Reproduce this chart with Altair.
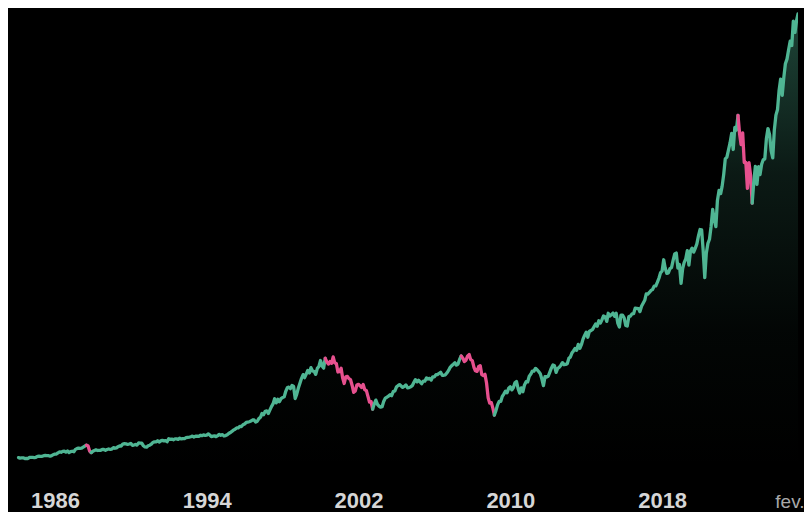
import altair as alt
import pandas as pd

# S&P 500 monthly closes (Jan 1984 .. Feb 2025)
y1984 = [163.4, 157.1, 159.2, 160.1, 150.6, 153.2, 150.7, 166.7, 166.1, 166.1, 163.6, 167.2]
y1985 = [179.6, 181.2, 180.7, 179.8, 189.6, 191.9, 190.9, 188.6, 182.1, 189.8, 202.2, 211.3]
y1986 = [211.8, 226.9, 238.9, 235.5, 247.4, 250.8, 236.1, 252.9, 231.3, 243.0, 249.2, 242.2]
y1987 = [274.1, 284.2, 291.7, 288.4, 290.1, 304.0, 318.7, 329.8, 321.8, 251.8, 230.3, 247.1]
y1988 = [257.1, 267.8, 258.9, 261.3, 262.2, 273.5, 272.0, 261.5, 271.9, 279.0, 273.7, 277.7]
y1989 = [297.5, 288.9, 294.9, 309.6, 320.5, 318.0, 346.1, 351.5, 349.2, 340.4, 346.0, 353.4]
y1990 = [329.1, 331.9, 339.9, 330.8, 361.2, 358.0, 356.2, 322.6, 306.1, 304.0, 322.2, 330.2]
y1991 = [343.9, 367.1, 375.2, 375.3, 389.8, 371.2, 387.8, 395.4, 387.9, 392.5, 375.2, 417.1]
y1992 = [408.8, 412.7, 403.7, 415.0, 415.4, 408.1, 424.2, 414.0, 417.8, 418.7, 431.4, 435.7]
y1993 = [438.8, 443.4, 451.7, 440.2, 450.2, 450.5, 448.1, 463.6, 458.9, 467.8, 461.8, 466.5]
y1994 = [481.6, 467.1, 445.8, 450.9, 456.5, 444.3, 458.3, 475.5, 462.7, 472.4, 453.7, 459.3]
y1995 = [470.4, 487.4, 500.7, 514.7, 533.4, 544.8, 562.1, 561.9, 584.4, 581.5, 605.4, 615.9]
y1996 = [636.0, 640.4, 645.5, 654.2, 669.1, 670.6, 640.0, 652.0, 687.3, 705.3, 757.0, 740.7]
y1997 = [786.2, 790.8, 757.1, 801.3, 848.3, 885.1, 954.3, 899.5, 947.3, 914.6, 955.4, 970.4]
y1998 = [980.3, 1049.3, 1101.8, 1111.8, 1090.8, 1133.8, 1120.7, 957.3, 1017.0, 1098.7, 1163.6, 1229.2]
y1999 = [1279.6, 1238.3, 1286.4, 1335.2, 1301.8, 1372.7, 1328.7, 1320.4, 1282.7, 1362.9, 1389.0, 1469.3]
y2000 = [1394.5, 1366.4, 1498.6, 1452.4, 1420.6, 1454.6, 1430.8, 1517.7, 1436.5, 1429.4, 1315.0, 1320.3]
y2001 = [1366.0, 1239.9, 1160.3, 1249.5, 1255.8, 1224.4, 1211.2, 1133.6, 1040.9, 1059.8, 1139.5, 1148.1]
y2002 = [1130.2, 1106.7, 1147.4, 1076.9, 1067.1, 989.8, 911.6, 916.1, 815.3, 885.8, 936.3, 879.8]
y2003 = [855.7, 841.2, 848.2, 916.9, 963.6, 974.5, 990.3, 1008.0, 996.0, 1050.7, 1058.2, 1111.9]
y2004 = [1131.1, 1144.9, 1126.2, 1107.3, 1120.7, 1140.8, 1101.7, 1104.2, 1114.6, 1130.2, 1173.8, 1211.9]
y2005 = [1181.3, 1203.6, 1180.6, 1156.9, 1191.5, 1191.3, 1234.2, 1220.3, 1228.8, 1207.0, 1249.5, 1248.3]
y2006 = [1280.1, 1280.7, 1294.9, 1310.6, 1270.1, 1270.2, 1276.7, 1303.8, 1335.9, 1377.9, 1400.6, 1418.3]
y2007 = [1438.2, 1406.8, 1420.9, 1482.4, 1530.6, 1503.4, 1455.3, 1474.0, 1526.8, 1549.4, 1481.1, 1468.4]
y2008 = [1378.6, 1330.6, 1322.7, 1385.6, 1400.4, 1280.0, 1267.4, 1282.8, 1166.4, 968.8, 896.2, 903.3]
y2009 = [825.9, 735.1, 797.9, 872.8, 919.1, 919.3, 987.5, 1020.6, 1057.1, 1036.2, 1095.6, 1115.1]
y2010 = [1073.9, 1104.5, 1169.4, 1186.7, 1089.4, 1030.7, 1101.6, 1049.3, 1141.2, 1183.3, 1180.6, 1257.6]
y2011 = [1286.1, 1327.2, 1325.8, 1363.6, 1345.2, 1320.6, 1292.3, 1218.9, 1131.4, 1253.3, 1247.0, 1257.6]
y2012 = [1312.4, 1365.7, 1408.5, 1397.9, 1310.3, 1362.2, 1379.3, 1406.6, 1440.7, 1412.2, 1416.2, 1426.2]
y2013 = [1498.1, 1514.7, 1569.2, 1597.6, 1630.7, 1606.3, 1685.7, 1633.0, 1681.6, 1756.5, 1805.8, 1848.4]
y2014 = [1782.6, 1859.5, 1872.3, 1884.0, 1923.6, 1960.2, 1930.7, 2003.4, 1972.3, 2018.1, 2067.6, 2058.9]
y2015 = [1995.0, 2104.5, 2067.9, 2085.5, 2107.4, 2063.1, 2103.8, 1972.2, 1920.0, 2079.4, 2080.4, 2043.9]
y2016 = [1940.2, 1932.2, 2059.7, 2065.3, 2097.0, 2098.9, 2173.6, 2171.0, 2168.3, 2126.2, 2198.8, 2238.8]
y2017 = [2278.9, 2363.6, 2362.7, 2384.2, 2411.8, 2423.4, 2470.3, 2471.7, 2519.4, 2575.3, 2647.6, 2673.6]
y2018 = [2823.8, 2713.8, 2640.9, 2648.1, 2705.3, 2718.4, 2816.3, 2901.5, 2914.0, 2711.7, 2760.2, 2506.9]
y2019 = [2704.1, 2784.5, 2834.4, 2945.8, 2752.1, 2941.8, 2980.4, 2926.5, 2976.7, 3037.6, 3141.0, 3230.8]
y2020 = [3225.5, 2954.2, 2584.6, 2912.4, 3044.3, 3100.3, 3271.1, 3500.3, 3363.0, 3270.0, 3621.6, 3756.1]
y2021 = [3714.2, 3811.2, 3972.9, 4181.2, 4204.1, 4297.5, 4395.3, 4522.7, 4307.5, 4605.4, 4567.0, 4766.2]
y2022 = [4515.6, 4373.9, 4530.4, 4131.9, 4132.2, 3785.4, 4130.3, 3955.0, 3585.6, 3872.0, 4080.1, 3839.5]
y2023 = [4076.6, 3970.2, 4109.3, 4169.5, 4179.8, 4450.4, 4589.0, 4507.7, 4288.1, 4193.8, 4567.8, 4769.8]
y2024 = [4845.7, 5096.3, 5254.4, 5035.7, 5277.5, 5460.5, 5522.3, 5648.4, 5762.5, 5705.5, 6032.4, 5881.6]
y2025 = [6040.5, 6130.0]

yearly = [y1984, y1985, y1986, y1987, y1988, y1989, y1990, y1991, y1992, y1993,
          y1994, y1995, y1996, y1997, y1998, y1999, y2000, y2001, y2002, y2003,
          y2004, y2005, y2006, y2007, y2008, y2009, y2010, y2011, y2012, y2013,
          y2014, y2015, y2016, y2017, y2018, y2019, y2020, y2021, y2022, y2023,
          y2024, y2025]
start_year = 1984

# bear-market stretches drawn in pink (first month, last month)
bear_ranges = [("1987-08", "1987-11"), ("2000-03", "2002-09"),
               ("2007-05", "2009-02"), ("2021-12", "2022-09")]

tick_labels = ["1986", "1994", "2002", "2010", "2018", "fev."]

GREEN = "#4fb593"
PINK = "#e6508e"

# ---- build tables ----
dates, values, keys = [], [], []
for i, arr in enumerate(yearly):
    yr = start_year + i
    for m, v in enumerate(arr, start=1):
        d = pd.Timestamp(yr, m, 1) + pd.offsets.MonthEnd(0)
        dates.append(d)
        values.append(v)
        keys.append(f"{yr}-{m:02d}")

base = pd.DataFrame({"date": dates, "value": values})

def in_bear(a, b):
    for s, e in bear_ranges:
        if s <= a and b <= e:
            return True
    return False

# colour each edge, then split into runs sharing boundary points
edge_kind = ["down" if in_bear(keys[i], keys[i + 1]) else "up" for i in range(len(keys) - 1)]
rows = []
seg = 0
i = 0
while i < len(edge_kind):
    kind = edge_kind[i]
    j = i
    while j + 1 < len(edge_kind) and edge_kind[j + 1] == kind:
        j += 1
    for k in range(i, j + 2):
        rows.append({"date": dates[k], "value": values[k], "seg": seg, "kind": kind})
    seg += 1
    i = j + 1
segs = pd.DataFrame(rows)

x_domain = [alt.DateTime(year=1983, month=7, date=13), alt.DateTime(year=2025, month=2, date=28)]
tick_values = [alt.DateTime(year=1986, month=1, date=1), alt.DateTime(year=1994, month=1, date=1),
               alt.DateTime(year=2002, month=1, date=1), alt.DateTime(year=2010, month=1, date=1),
               alt.DateTime(year=2018, month=1, date=1), alt.DateTime(year=2025, month=2, date=28)]

label_expr = ("year(datum.value) >= 2025 ? '" + tick_labels[-1] + "' : timeFormat(datum.value, '%Y')")
last_test = "year(datum.value) >= 2025"

x_enc = alt.X("date:T", scale=alt.Scale(domain=x_domain, nice=False),
              axis=alt.Axis(values=tick_values, labelExpr=label_expr, title=None,
                            domain=False, ticks=False, tickSize=0, grid=False,
                            labelFont="Liberation Sans", labelFontSize={"condition": {"test": last_test, "value": 19}, "value": 22},
                            labelFontWeight={"condition": {"test": last_test, "value": "normal"}, "value": "bold"},
                            labelColor={"condition": {"test": last_test, "value": "#a9a9a9"}, "value": "#d6d6d6"},
                            labelBaseline="alphabetic", labelPadding=38,
                            labelFlush=True, labelFlushOffset=6, labelOverlap=False))
y_scale = alt.Scale(domain=[0, 6206], nice=False, zero=True)

area = alt.Chart(base).mark_area(
    color=alt.Gradient(
        gradient="linear",
        stops=[alt.GradientStop(color="rgba(79,181,147,0.38)", offset=0),
               alt.GradientStop(color="rgba(79,181,147,0.14)", offset=0.35),
               alt.GradientStop(color="rgba(79,181,147,0.03)", offset=0.7),
               alt.GradientStop(color="rgba(79,181,147,0.0)", offset=1)],
        x1=1, x2=1, y1=0, y2=1),
    clip=True,
).encode(x=x_enc, y=alt.Y("value:Q", scale=y_scale, axis=None))

line = alt.Chart(segs).mark_line(strokeWidth=3.3, strokeJoin="round", strokeCap="round", clip=True).encode(
    x=alt.X("date:T"),
    y=alt.Y("value:Q", scale=y_scale, axis=None),
    detail="seg:N",
    color=alt.Color("kind:N", scale=alt.Scale(domain=["up", "down"], range=[GREEN, PINK]), legend=None),
    order=alt.Order("date:T"),
)

chart = alt.layer(area, line).properties(
    width=791, height=462, background="#000000", padding=0
).configure_view(stroke=None)

chart.save("out.html", embed_options={"renderer": "svg", "actions": False})
